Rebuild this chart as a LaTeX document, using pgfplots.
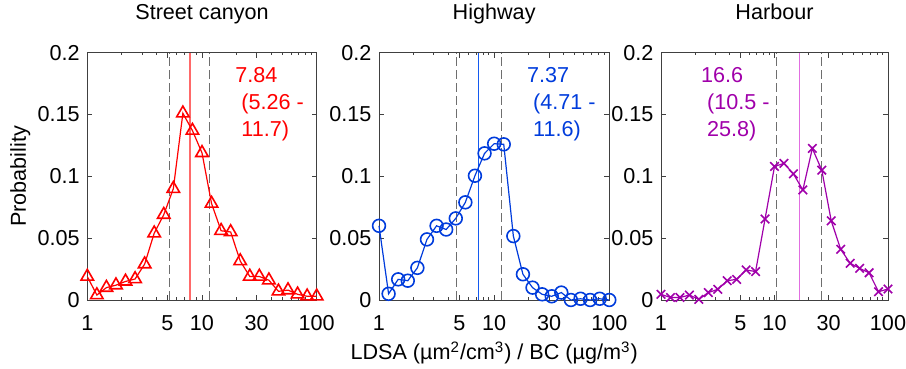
\documentclass[border=0pt]{standalone}
\usepackage{fontspec}
\setmainfont{Liberation Sans}
\usepackage{pgfplots}
\pgfplotsset{compat=1.18}
\definecolor{cred}{RGB}{255,0,0}
\definecolor{medred}{RGB}{255,105,105}
\definecolor{cblue}{RGB}{0,60,220}
\definecolor{medblue}{RGB}{20,90,240}
\definecolor{cmag}{RGB}{160,0,170}
\definecolor{medmagenta}{RGB}{225,110,225}
\definecolor{dashgray}{RGB}{110,110,110}
\definecolor{axgray}{RGB}{64,64,64}
\pgfplotsset{
 mypanelstyle/.style={
  scale only axis, height=123.65pt,
  xmin=1, xmax=100, ymin=0, ymax=0.2,
  xtick={1,5,10,30,100}, xticklabels={1,5,10,30,100},
  minor xtick={2,3,4,6,7,8,9,20,40,50,60,70,80,90},
  ytick={0,0.05,0.1,0.15,0.2}, yticklabels={0,0.05,0.1,0.15,0.2},
  tick align=inside, major tick length=2.5pt, minor tick length=1.4pt,
  axis line style={axgray, line width=0.45pt},
  every tick/.style={axgray, line width=0.45pt},
  xticklabel style={yshift=-3.9pt},
  title style={at={(0.5,1)}, anchor=base, yshift=10.35pt},
  clip=false, anchor=south west,
 },
 vdash/.style={dashgray, line width=0.5pt, dash pattern=on 4.5pt off 2pt, forget plot},
}
\begin{document}
\fontsize{10.8}{13.5}\selectfont
\begin{tikzpicture}
\useasboundingbox (-43.65pt,-34.5pt) rectangle (409.35pt,150pt);
% Street canyon
\begin{semilogxaxis}[mypanelstyle, at={(0pt,0pt)}, width=114.7pt, title={Street canyon},
  ylabel={Probability}, ylabel style={at={(axis description cs:-0.292,0.5)}, anchor=center}]
\addplot[vdash] coordinates {(5.26,0) (5.26,0.2)};
\addplot[vdash] coordinates {(11.7,0) (11.7,0.2)};
\addplot[color=medred, line width=0.7pt, forget plot] coordinates {(7.84,0) (7.84,0.2)};
\addplot[cred, line width=0.6pt, mark=triangle, mark size=3.6pt, mark options={line width=0.8pt}] coordinates {
(1,0.019) (1.2115,0.004) (1.4678,0.010) (1.7783,0.012) (2.1544,0.015)
(2.6102,0.017) (3.1623,0.029) (3.8312,0.054) (4.6416,0.069) (5.6234,0.090)
(6.8129,0.151) (8.2540,0.137) (10,0.119) (12.115,0.078) (14.678,0.056)
(17.783,0.055) (21.544,0.0315) (26.102,0.019) (31.623,0.019) (38.312,0.016)
(46.416,0.007) (56.234,0.008) (68.129,0.0046) (82.540,0.003) (100,0.003)};
\node[anchor=north west, align=left, text=cred, inner sep=0pt] at (axis cs:19.4,0.1884)
  {7.84\\\hspace*{0.28em}(5.26 -\\\hspace*{0.28em}11.7)};
\end{semilogxaxis}
% Highway
\begin{semilogxaxis}[mypanelstyle, at={(145.85pt,0pt)}, width=115.15pt, title={Highway},
  xlabel={LDSA (µm\textsuperscript{2}/cm\textsuperscript{3}) / BC (µg/m\textsuperscript{3})},
  xlabel style={at={(axis description cs:0.5,-0.2426)}, anchor=base}]
\addplot[vdash] coordinates {(4.71,0) (4.71,0.2)};
\addplot[vdash] coordinates {(11.6,0) (11.6,0.2)};
\addplot[color=medblue, line width=0.6pt, forget plot] coordinates {(7.37,0) (7.37,0.2)};
\addplot[cblue, line width=0.6pt, mark=o, mark size=3.2pt, mark options={line width=0.8pt}] coordinates {
(1,0.060) (1.2115,0.005) (1.4678,0.0167) (1.7783,0.0156) (2.1544,0.026)
(2.6102,0.049) (3.1623,0.060) (3.8312,0.057) (4.6416,0.066) (5.6234,0.079)
(6.8129,0.1005) (8.2540,0.1186) (10,0.1264) (12.115,0.1259) (14.678,0.0517)
(17.783,0.0208) (21.544,0.010) (26.102,0.0046) (31.623,0.003) (38.312,0.006)
(46.416,0.000) (56.234,0.001) (68.129,0.000) (82.540,0.001) (100,0.000)};
\node[anchor=north west, align=left, text=cblue, inner sep=0pt] at (axis cs:19.2,0.1886)
  {7.37\\\hspace*{0.28em}(4.71 -\\\hspace*{0.28em}11.6)};
\end{semilogxaxis}
% Harbour
\begin{semilogxaxis}[mypanelstyle, at={(286.85pt,0pt)}, width=113.5pt, title={Harbour}]
\addplot[vdash] coordinates {(10.5,0) (10.5,0.2)};
\addplot[vdash] coordinates {(25.8,0) (25.8,0.2)};
\addplot[color=medmagenta, line width=0.75pt, forget plot] coordinates {(16.6,0) (16.6,0.2)};
\addplot[cmag, line width=0.6pt, mark=x, mark size=3pt, mark options={line width=0.8pt}] coordinates {
(1,0.0046) (1.2115,0.002) (1.4678,0.002) (1.7783,0.004) (2.1544,0.0005)
(2.6102,0.006) (3.1623,0.0086) (3.8312,0.0156) (4.6416,0.0167) (5.6234,0.0243)
(6.8129,0.023) (8.2540,0.0655) (10,0.108) (12.115,0.1105) (14.678,0.102)
(17.783,0.089) (21.544,0.1226) (26.102,0.105) (31.623,0.064) (38.312,0.041)
(46.416,0.0297) (56.234,0.0256) (68.129,0.022) (82.540,0.0067) (100,0.0089)};
\node[anchor=north west, align=left, text=cmag, inner sep=0pt] at (axis cs:2.24,0.1886)
  {16.6\\\hspace*{0.28em}(10.5 -\\\hspace*{0.28em}25.8)};
\end{semilogxaxis}
\end{tikzpicture}
\end{document}
